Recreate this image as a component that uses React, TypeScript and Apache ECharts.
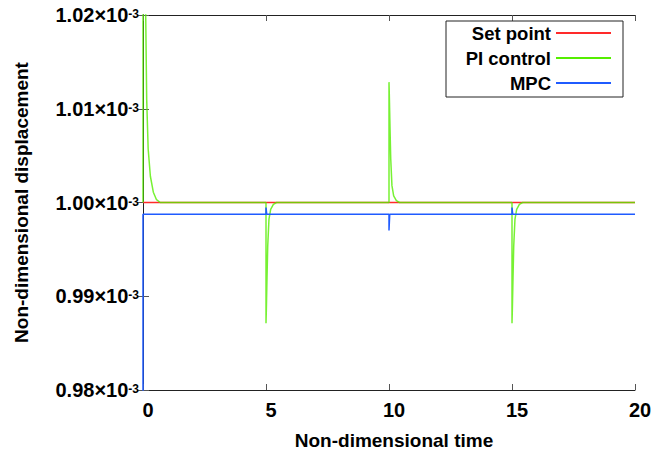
import React, { useEffect, useRef } from "react";
import * as echarts from "echarts";

// Values in units of 1e-3 (non-dimensional displacement ×10^-3)
const xTicks = [0, 5, 10, 15, 20];
const yTicks = [0.98, 0.99, 1.0, 1.01, 1.02];

const setPointT = [0, 20];
const setPointV = [1.0, 1.0];

const piT = [
  0, 0, 0.08, 0.11, 0.15, 0.21, 0.3, 0.42, 0.55, 0.7,
  5, 5, 5.012, 5.04, 5.07, 5.12, 5.19, 5.3, 5.43,
  10, 10, 10.012, 10.04, 10.07, 10.12, 10.19, 10.3, 10.43,
  15, 15, 15.012, 15.04, 15.07, 15.12, 15.19, 15.3, 15.43,
  20,
];
const piV = [
  1.0, 1.05, 1.03, 1.02, 1.011, 1.0057, 1.0028, 1.0011, 1.0003, 1.0,
  1.0, 0.98713, 0.9883, 0.99181, 0.99535, 0.99819, 0.99926, 0.99979, 1.0,
  1.0, 1.01284, 1.0116, 1.0081, 1.0047, 1.0018, 1.0007, 1.0002, 1.0,
  1.0, 0.98713, 0.9883, 0.99181, 0.99535, 0.99819, 0.99926, 0.99979, 1.0,
  1.0,
];

const mpcT = [0, 0, 5, 5, 5.03, 10, 10, 10.03, 15, 15, 15.03, 20];
const mpcV = [0, 0.99874, 0.99874, 0.99947, 0.99874, 0.99874, 0.99702, 0.99874, 0.99874, 0.99947, 0.99874, 0.99874];

const seriesNames = ["Set point", "PI control", "MPC"];
const seriesColors = ["#ff2a2a", "#55ee00", "#1f5bff"];

const FONT = "'Liberation Sans', Arial, Helvetica, sans-serif";

function zip(t: number[], v: number[]) {
  return t.map((x, i) => [x, v[i]]);
}

export default function App() {
  const ref = useRef<HTMLDivElement>(null);
  useEffect(() => {
    if (!ref.current) return;
    const chart = echarts.init(ref.current, undefined, { renderer: "svg" });
    const axisLineStyle = { color: "#222", width: 1 };
    const tickStyle = { color: "#555", width: 1 };
    const legendTops = [23, 48, 73];
    chart.setOption({
      animation: false,
      backgroundColor: "#fff",
      grid: { left: 143, right: 34, top: 15, bottom: 64, containLabel: false },
      xAxis: [
        {
          type: "value",
          min: xTicks[0],
          max: xTicks[xTicks.length - 1],
          interval: 5,
          position: "bottom",
          name: "Non-dimensional time",
          nameLocation: "middle",
          nameGap: 41,
          nameTextStyle: { fontFamily: FONT, fontWeight: "bold", fontSize: 19, color: "#000", padding: [0, 0, 0, 10] },
          axisLine: { show: true, lineStyle: axisLineStyle },
          axisTick: { show: true, inside: true, length: 6, lineStyle: tickStyle },
          splitLine: { show: false },
          axisLabel: {
            fontFamily: FONT,
            fontWeight: "bold",
            fontSize: 20,
            color: "#000",
            margin: 10,
            padding: [0, 0, 0, 10],
            showMinLabel: true,
            showMaxLabel: true,
          },
        },
        {
          type: "value",
          min: xTicks[0],
          max: xTicks[xTicks.length - 1],
          interval: 5,
          position: "top",
          axisLine: { show: true, lineStyle: axisLineStyle },
          axisTick: { show: true, inside: true, length: 6, lineStyle: tickStyle },
          axisLabel: { show: false },
          splitLine: { show: false },
        },
      ],
      yAxis: [
        {
          type: "value",
          min: yTicks[0],
          max: yTicks[yTicks.length - 1],
          interval: 0.01,
          position: "left",
          name: "Non-dimensional displacement",
          nameLocation: "middle",
          nameGap: 112,
          nameTextStyle: { fontFamily: FONT, fontWeight: "bold", fontSize: 19, color: "#000" },
          axisLine: { show: true, lineStyle: axisLineStyle },
          axisTick: { show: true, inside: true, length: 6, lineStyle: tickStyle },
          splitLine: { show: false },
          axisLabel: {
            margin: 4,
            showMinLabel: true,
            showMaxLabel: true,
            formatter: (v: number) => `{a|${v.toFixed(2)}×10}{b|-3}`,
            rich: {
              a: { fontFamily: FONT, fontWeight: "bold", fontSize: 20, color: "#000", lineHeight: 22 },
              b: {
                fontFamily: FONT,
                fontWeight: "bold",
                fontSize: 12,
                color: "#000",
                lineHeight: 12,
                verticalAlign: "top",
                padding: [4, 0, 0, 0],
              },
            },
          },
        },
        {
          type: "value",
          min: yTicks[0],
          max: yTicks[yTicks.length - 1],
          interval: 0.01,
          position: "right",
          axisLine: { show: true, lineStyle: axisLineStyle },
          axisTick: { show: true, inside: true, length: 6, lineStyle: tickStyle },
          axisLabel: { show: false },
          splitLine: { show: false },
        },
      ],
      legend: seriesNames.map((n, i) => ({
        data: [n],
        orient: "vertical",
        align: "right",
        right: 58,
        top: legendTops[i],
        padding: 0,
        itemWidth: 55,
        itemHeight: 2,
        icon: "rect",
        selectedMode: false,
        z: 6,
        textStyle: { fontFamily: FONT, fontWeight: "bold", fontSize: 18.5, color: "#000", lineHeight: 20 },
      })),
      graphic: [
        {
          type: "rect",
          z: 5,
          shape: { x: 446, y: 21, width: 177, height: 76 },
          style: { fill: "#fff", stroke: "#222", lineWidth: 1 },
        },
      ],
      series: [
        {
          name: seriesNames[0],
          type: "line",
          data: zip(setPointT, setPointV),
          symbol: "none",
          clip: true,
          color: seriesColors[0],
          lineStyle: { color: seriesColors[0], width: 1.5 },
        },
        {
          name: seriesNames[1],
          type: "line",
          data: zip(piT, piV),
          symbol: "none",
          clip: true,
          color: seriesColors[1],
          lineStyle: { color: seriesColors[1], width: 1.5, opacity: 0.8 },
        },
        {
          name: seriesNames[2],
          type: "line",
          data: zip(mpcT, mpcV),
          symbol: "none",
          clip: true,
          color: seriesColors[2],
          lineStyle: { color: seriesColors[2], width: 1.5 },
        },
      ],
    });
    return () => chart.dispose();
  }, []);
  return (
    <div
      ref={ref}
      style={{ position: "fixed", left: 0, top: 0, width: 669, height: 455, background: "#fff" }}
    />
  );
}
